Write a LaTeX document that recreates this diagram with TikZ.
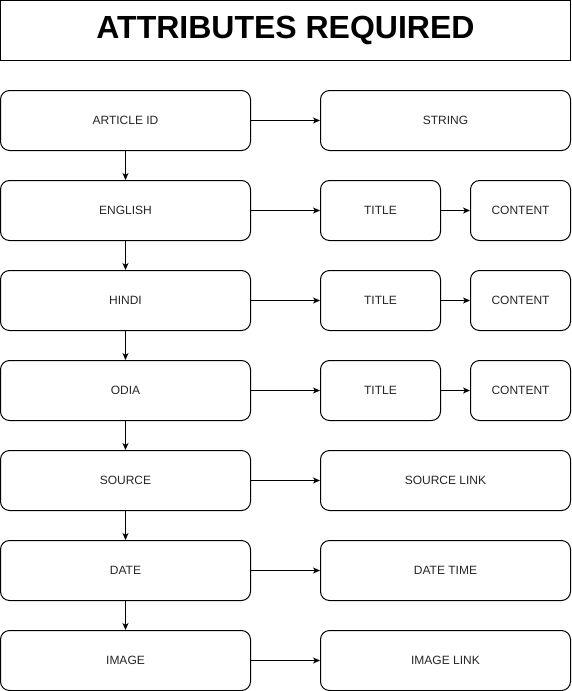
\documentclass[tikz,border=0pt]{standalone}
\usepackage{fontspec}
\setmainfont{Liberation Sans}
\usetikzlibrary{arrows.meta}

\tikzset{
  attrbox/.style={draw, rounded corners=9pt, minimum height=60pt, inner sep=0pt,
    line width=1pt, font=\fontsize{12}{14}\selectfont, text=black!85},
  leftbox/.style={attrbox, minimum width=250pt},
  widebox/.style={attrbox, minimum width=250pt},
  titlebox/.style={attrbox, minimum width=120pt},
  contentbox/.style={attrbox, minimum width=100pt},
  flow/.style={-{Stealth[length=7pt,width=6pt,inset=2pt]}, line width=1pt},
}

\begin{document}
\begin{tikzpicture}[x=1pt, y=-1pt]
    \useasboundingbox (0,0) rectangle (571,691);

    % Heading
    \node[draw, line width=1pt, minimum width=570pt, minimum height=60pt, inner sep=0pt,
      font=\fontsize{32}{38}\selectfont\bfseries] (heading) at (285.5,30.5) {ATTRIBUTES REQUIRED};

    % Left column
    \node[leftbox] (articleid) at (125.5,120.5) {ARTICLE ID};
    \node[leftbox] (english) at (125.5,210.5) {ENGLISH};
    \node[leftbox] (hindi) at (125.5,300.5) {HINDI};
    \node[leftbox] (odia) at (125.5,390.5) {ODIA};
    \node[leftbox] (source) at (125.5,480.5) {SOURCE};
    \node[leftbox] (date) at (125.5,570.5) {DATE};
    \node[leftbox] (image) at (125.5,660.5) {IMAGE};

    % Right column
    \node[widebox] (string) at (445.5,120.5) {STRING};
    \node[titlebox] (entitle) at (380.5,210.5) {TITLE};
    \node[contentbox] (encontent) at (520.5,210.5) {CONTENT};
    \node[titlebox] (hititle) at (380.5,300.5) {TITLE};
    \node[contentbox] (hicontent) at (520.5,300.5) {CONTENT};
    \node[titlebox] (odtitle) at (380.5,390.5) {TITLE};
    \node[contentbox] (odcontent) at (520.5,390.5) {CONTENT};
    \node[widebox] (sourcelink) at (445.5,480.5) {SOURCE LINK};
    \node[widebox] (datetime) at (445.5,570.5) {DATE TIME};
    \node[widebox] (imagelink) at (445.5,660.5) {IMAGE LINK};

    % Down the left column
    \draw[flow] (articleid) -- (english);
    \draw[flow] (english) -- (hindi);
    \draw[flow] (hindi) -- (odia);
    \draw[flow] (odia) -- (source);
    \draw[flow] (source) -- (date);
    \draw[flow] (date) -- (image);

    % Across to the right
    \draw[flow] (articleid) -- (string);
    \draw[flow] (english) -- (entitle);
    \draw[flow] (entitle) -- (encontent);
    \draw[flow] (hindi) -- (hititle);
    \draw[flow] (hititle) -- (hicontent);
    \draw[flow] (odia) -- (odtitle);
    \draw[flow] (odtitle) -- (odcontent);
    \draw[flow] (source) -- (sourcelink);
    \draw[flow] (date) -- (datetime);
    \draw[flow] (image) -- (imagelink);
\end{tikzpicture}
\end{document}
